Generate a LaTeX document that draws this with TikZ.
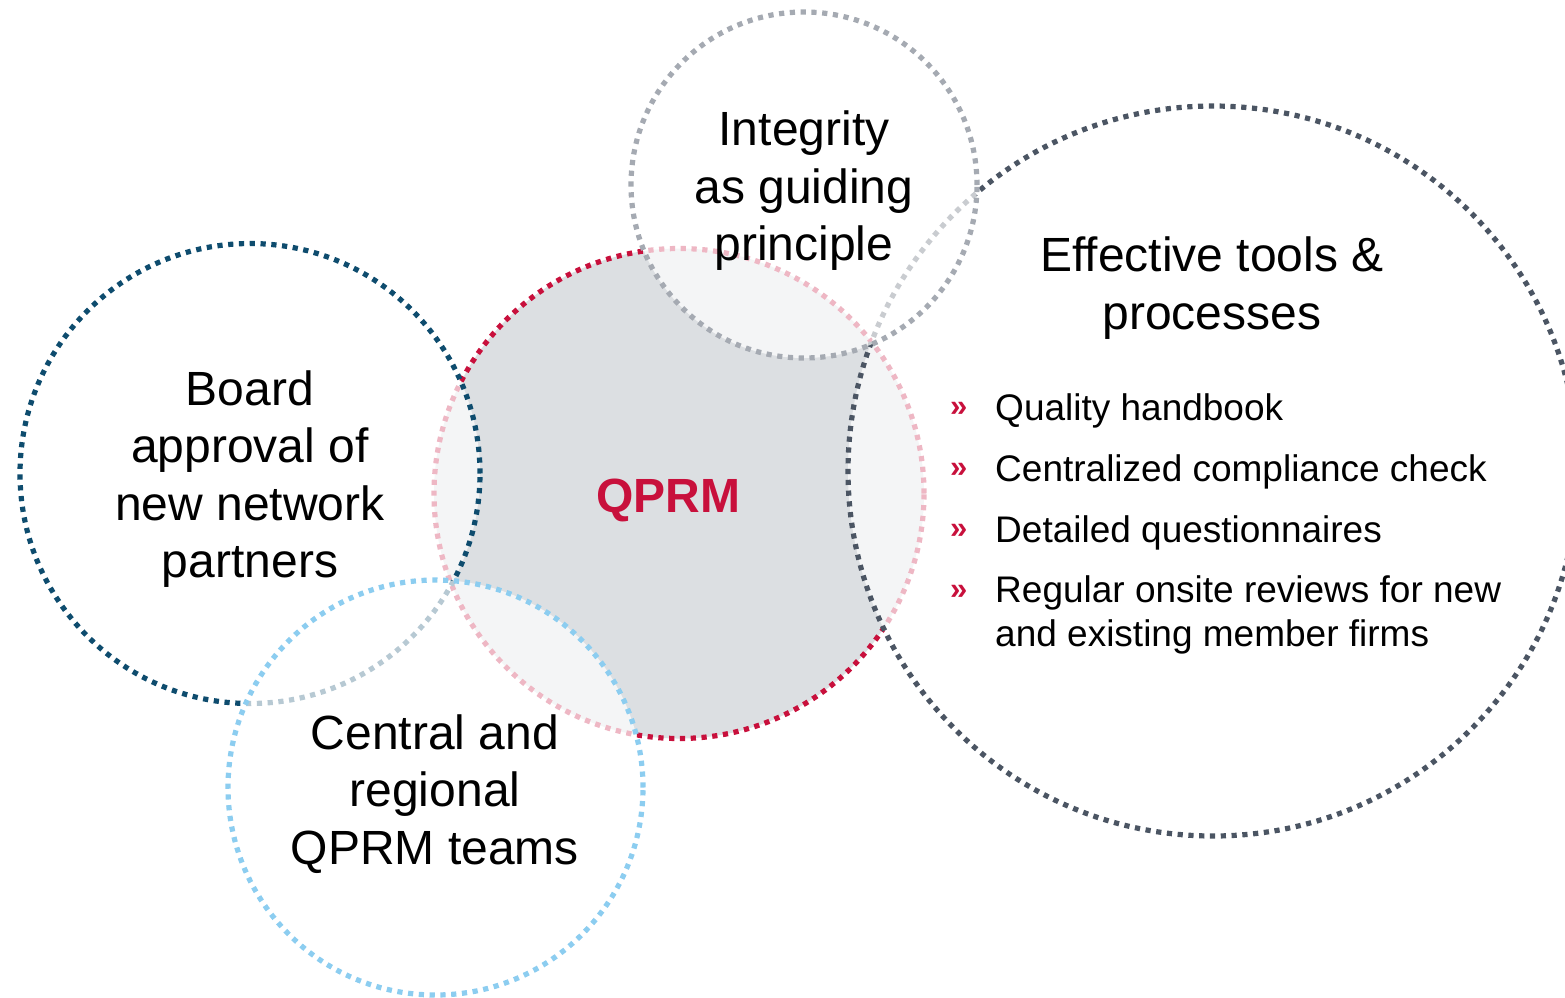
\documentclass[tikz,border=0pt]{standalone}
\usepackage{fontspec}
\setmainfont{Liberation Sans}
\definecolor{crim}{RGB}{200,16,60}
\definecolor{teal}{RGB}{14,76,110}
\definecolor{lblue}{RGB}{140,205,240}
\definecolor{tgray}{RGB}{165,170,178}
\definecolor{slate}{RGB}{75,85,99}
\definecolor{cfill}{RGB}{220,223,226}
\begin{document}
\begin{tikzpicture}[x=1pt,y=-1pt,
  ring/.style={circle, inner sep=0pt, line width=5.2pt, dash pattern=on 5.2pt off 5.6pt},
  over/.style={ring, fill=white, fill opacity=0.7, draw opacity=1},
  big/.style={font=\fontsize{48}{57.5}\selectfont, align=center, inner sep=0pt},
  item/.style={font=\fontsize{37}{44}\selectfont, anchor=base west, inner sep=0pt, align=left},
  bul/.style={font=\fontsize{31}{31}\selectfont\bfseries, text=crim, anchor=base west, inner sep=0pt}]
\useasboundingbox (0,0) rectangle (1565,997);
% circles
\node[ring, draw=crim, fill=cfill, minimum size=490pt] (qprmC) at (679,493.5) {};
\node[over, draw=slate, minimum size=730pt] (rightC) at (1213,471) {};
\node[over, draw=teal, minimum size=460pt] (leftC) at (250,473.5) {};
\node[over, draw=tgray, minimum size=346pt] (topC) at (804,185) {};
\node[over, draw=lblue, minimum size=415pt] (botC) at (435.5,787.5) {};
% texts
\node[big] (tInt) at (804,191) {Integrity\\as guiding\\principle};
\node[big] (tBoard) at (250,479) {Board\\approval of\\new network\\partners};
\node[big] (tCent) at (435,794) {Central and\\regional\\QPRM teams};
\node[big] (tEff) at (1212,288) {Effective tools \&\\processes};
\node[font=\fontsize{48}{57}\selectfont\bfseries, text=crim, inner sep=0pt] (tQ) at (668,500) {QPRM};
% bullets
\node[bul] (b1) at (950,416) {»};
\node[bul] (b2) at (950,477) {»};
\node[bul] (b3) at (950,538) {»};
\node[bul] (b4) at (950,599) {»};
\node[item] (i1) at (995,420) {Quality handbook};
\node[item] (i2) at (995,481) {Centralized compliance check};
\node[item] (i3) at (995,542) {Detailed questionnaires};
\node[item] (i4) at (995,646) {Regular onsite reviews for new\\and existing member firms};
\end{tikzpicture}
\end{document}
